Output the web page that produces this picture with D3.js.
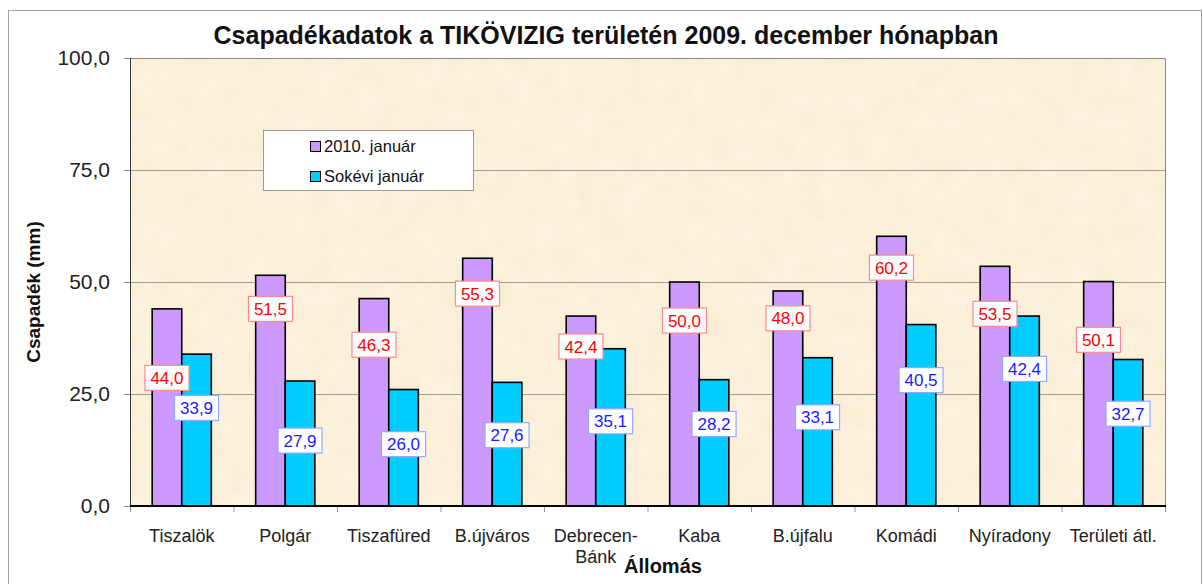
<!DOCTYPE html>
<html>
<head>
<meta charset="utf-8">
<script src="https://cdn.jsdelivr.net/npm/d3@7"></script>
<style>
  body { margin: 0; background: #fff; }
  svg { display: block; font-family: Arial, "Liberation Sans", sans-serif; }
</style>
</head>
<body>
<div id="chart"></div>
<script>
// Data
var stations = ["Tiszalök", "Polgár", "Tiszafüred", "B.újváros", "Debrecen-Bánk",
                "Kaba", "B.újfalu", "Komádi", "Nyíradony", "Területi átl."];
var seriesNames = ["2010. január", "Sokévi január"];
var jan2010 = [44.0, 51.5, 46.3, 55.3, 42.4, 50.0, 48.0, 60.2, 53.5, 50.1];
var janLongTerm = [33.9, 27.9, 26.0, 27.6, 35.1, 28.2, 33.1, 40.5, 42.4, 32.7];
var yTicks = [0, 25, 50, 75, 100];

// where the (hand placed) data labels sit, in mm on the y axis
var labelLevel1 = [28.6, 44.0, 36.0, 47.4, 35.6, 41.4, 41.9, 53.2, 42.9, 37.1];
var labelLevel2 = [21.9, 14.6, 13.8, 15.8, 18.9, 18.3, 19.8, 28.1, 30.6, 20.6];

var w = 1203, h = 584;
var plotL = 130, plotR = 1165, plotT = 58, plotB = 506;

var colors = ["#CC99FF", "#00CCFF"];

var fmt = function(v) { return d3.format(".1f")(v).replace(".", ","); };

var svg = d3.select("#chart")
            .append("svg")
            .attr("width", w)
            .attr("height", h);

// parchment-ish texture for the plot area
var defs = svg.append("defs");
var filt = defs.append("filter")
   .attr("id", "parch")
   .attr("x", 0).attr("y", 0).attr("width", 1).attr("height", 1);
filt.append("feTurbulence")
   .attr("type", "fractalNoise")
   .attr("baseFrequency", 0.045)
   .attr("numOctaves", 2)
   .attr("seed", 3);
filt.append("feColorMatrix")
   .attr("type", "matrix")
   .attr("values", "0 0 0 0 0.85  0 0 0 0 0.72  0 0 0 0 0.45  0 0 0 0.35 -0.1");

// outer chart border
svg.append("rect")
   .attr("x", 8.5).attr("y", 10.5)
   .attr("width", 1193).attr("height", 600)
   .style("fill", "#fff")
   .style("stroke", "#a0a0a0");

var x = d3.scaleBand()
          .domain(stations)
          .range([plotL, plotR]);

var x1 = d3.scaleBand()
           .domain(seriesNames)
           .range([0, x.bandwidth()])
           .paddingOuter(0.75);

var y = d3.scaleLinear()
          .domain([0, 100])
          .range([plotB, plotT]);

// plot area
svg.append("rect")
   .attr("x", plotL).attr("y", plotT)
   .attr("width", plotR - plotL).attr("height", plotB - plotT)
   .style("fill", "#FCF1DC");
svg.append("rect")
   .attr("x", plotL).attr("y", plotT)
   .attr("width", plotR - plotL).attr("height", plotB - plotT)
   .attr("filter", "url(#parch)")
   .style("fill", "#000");
svg.append("rect")
   .attr("x", plotL + 0.5).attr("y", plotT + 0.5)
   .attr("width", plotR - plotL).attr("height", plotB - plotT)
   .style("fill", "none")
   .style("stroke", "#8a8a8a");

// gridlines
svg.append("g")
   .selectAll("line")
   .data(yTicks.filter(function(d) { return d > 0 && d < 100; }))
   .enter()
   .append("line")
   .attr("x1", plotL).attr("x2", plotR)
   .attr("y1", function(d) { return y(d) + 0.5; })
   .attr("y2", function(d) { return y(d) + 0.5; })
   .style("stroke", "#a59d92");

// y axis
var yAxis = svg.append("g")
   .attr("transform", "translate(" + plotL + ",0)")
   .call(d3.axisLeft(y).tickValues(yTicks).tickFormat(fmt).tickSize(6).tickPadding(14));
yAxis.select(".domain").style("stroke", "#333");
yAxis.selectAll(".tick line").style("stroke", "#888");
yAxis.selectAll("text")
     .style("font-size", "21px")
     .style("fill", "#222")
     .style("font-family", "Arial, 'Liberation Sans', sans-serif");

// bars
var groups = svg.append("g")
   .selectAll("g")
   .data(stations)
   .enter()
   .append("g")
   .attr("transform", function(d) { return "translate(" + x(d) + ",0)"; });

var allValues = [jan2010, janLongTerm];

groups.selectAll("rect")
   .data(function(d, i) {
       return seriesNames.map(function(s, k) { return { s: s, k: k, v: allValues[k][i] }; });
   })
   .enter()
   .append("rect")
   .attr("x", function(d) { return x1(d.s); })
   .attr("y", function(d) { return y(d.v); })
   .attr("width", x1.bandwidth())
   .attr("height", function(d) { return y(0) - y(d.v); })
   .style("fill", function(d) { return colors[d.k]; })
   .style("stroke", "#000")
   .style("stroke-width", 1.6);

// x axis
svg.append("line")
   .attr("x1", plotL).attr("x2", plotR + 1)
   .attr("y1", plotB).attr("y2", plotB)
   .style("stroke", "#000")
   .style("stroke-width", 2);

svg.append("g")
   .selectAll("line")
   .data(d3.range(stations.length + 1))
   .enter()
   .append("line")
   .attr("x1", function(i) { return plotL + i * x.step() + 0.5; })
   .attr("x2", function(i) { return plotL + i * x.step() + 0.5; })
   .attr("y1", plotB + 1).attr("y2", plotB + 6)
   .style("stroke", "#999");

var xl = svg.append("g")
   .selectAll("text")
   .data(stations)
   .enter()
   .append("text")
   .attr("x", function(d) { return x(d) + x.bandwidth() / 2; })
   .attr("y", 542)
   .attr("text-anchor", "middle")
   .style("font-size", "18px")
   .style("fill", "#222");

xl.each(function(d) {
    var parts = d.indexOf("-") > 0 ? [d.slice(0, d.indexOf("-") + 1), d.slice(d.indexOf("-") + 1)] : [d];
    var t = d3.select(this);
    parts.forEach(function(p, j) {
        t.append("tspan")
         .attr("x", x(d) + x.bandwidth() / 2)
         .attr("dy", j === 0 ? 0 : 21)
         .text(p);
    });
});

// data labels
var labelStyles = [
    { text: "#FF0000", border: "#FF8A8A", levels: labelLevel1 },
    { text: "#1a1aff", border: "#93A8FF", levels: labelLevel2 }
];

allValues.forEach(function(vals, k) {
    var st = labelStyles[k];
    var lab = svg.append("g")
       .selectAll("g")
       .data(vals)
       .enter()
       .append("g")
       .attr("transform", function(d, i) {
           var cx = x(stations[i]) + x1(seriesNames[k]) + x1.bandwidth() / 2;
           return "translate(" + cx + "," + y(st.levels[i]) + ")";
       });
    lab.append("rect")
       .attr("x", -22).attr("y", -12.5)
       .attr("width", 44).attr("height", 25)
       .style("fill", "#fff")
       .style("stroke", st.border)
       .style("stroke-width", 1.2);
    lab.append("text")
       .attr("text-anchor", "middle")
       .attr("y", 6)
       .style("font-size", "17px")
       .style("fill", st.text)
       .text(fmt);
});

// legend
var legend = svg.append("g");
legend.append("rect")
   .attr("x", 263.5).attr("y", 130.5)
   .attr("width", 210).attr("height", 60)
   .style("fill", "#fff")
   .style("stroke", "#999");

var li = legend.selectAll("g.item")
   .data(seriesNames)
   .enter()
   .append("g")
   .attr("class", "item")
   .attr("transform", function(d, i) { return "translate(310," + (141 + i * 30) + ")"; });
li.append("rect")
   .attr("x", 0.5).attr("y", 0.5)
   .attr("width", 10).attr("height", 10)
   .style("fill", function(d, i) { return colors[i]; })
   .style("stroke", "#000");
li.append("text")
   .attr("x", 14).attr("y", 11)
   .style("font-size", "16.5px")
   .style("fill", "#111")
   .text(function(d) { return d; });

// titles
svg.append("text")
   .attr("x", 606).attr("y", 44)
   .attr("text-anchor", "middle")
   .style("font-size", "25px")
   .style("font-weight", "bold")
   .style("fill", "#111")
   .text("Csapadékadatok a TIKÖVIZIG területén 2009. december hónapban");

svg.append("text")
   .attr("transform", "translate(40,292) rotate(-90)")
   .attr("text-anchor", "middle")
   .style("font-size", "19px")
   .style("font-weight", "bold")
   .style("fill", "#111")
   .text("Csapadék (mm)");

svg.append("text")
   .attr("x", 663).attr("y", 573)
   .attr("text-anchor", "middle")
   .style("font-size", "20px")
   .style("font-weight", "bold")
   .style("fill", "#111")
   .text("Állomás");
</script>
</body>
</html>
